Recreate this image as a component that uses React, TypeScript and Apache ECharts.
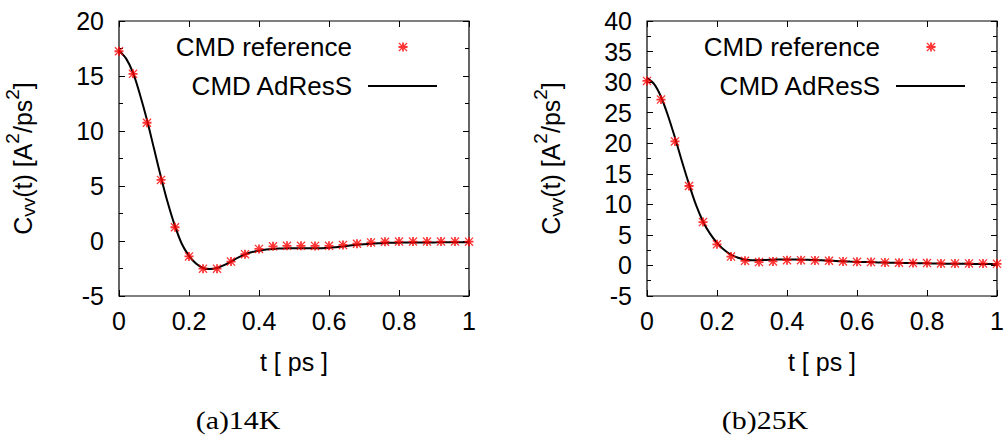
import React, { useEffect, useRef } from 'react';
import * as echarts from 'echarts';

// ---- data ----
const seriesNames = ['CMD reference', 'CMD AdResS'];
const panelCaptions = ['(a)14K', '(b)25K'];
const yMin = [-5, -5];
const yMax = [20, 40];
const yInterval = 5;
const xMin = 0;
const xMax = 1;
const xInterval = 0.2;

const refT = [0, 0.04, 0.08, 0.12, 0.16, 0.2, 0.24, 0.28, 0.32, 0.36, 0.4, 0.44, 0.48, 0.52, 0.56, 0.6, 0.64, 0.68, 0.72, 0.76, 0.8, 0.84, 0.88, 0.92, 0.96, 1.0];
const ref14K = [17.25, 15.2, 10.75, 5.55, 1.25, -1.4, -2.52, -2.52, -1.87, -1.2, -0.72, -0.48, -0.44, -0.44, -0.45, -0.44, -0.36, -0.25, -0.13, -0.07, -0.05, -0.05, -0.05, -0.05, -0.05, -0.06];
const ref25K = [30.2, 27.15, 20.3, 13.0, 7.1, 3.45, 1.45, 0.75, 0.55, 0.65, 0.87, 0.87, 0.82, 0.77, 0.65, 0.6, 0.55, 0.49, 0.44, 0.38, 0.38, 0.33, 0.33, 0.33, 0.33, 0.27];

const lineT = [0, 0.02, 0.04, 0.06, 0.08, 0.1, 0.12, 0.14, 0.16, 0.18, 0.2, 0.22, 0.24, 0.26, 0.28, 0.3, 0.32, 0.34, 0.36, 0.38, 0.4, 0.42, 0.44, 0.46, 0.48, 0.5, 0.52, 0.54, 0.56, 0.58, 0.6, 0.62, 0.64, 0.66, 0.68, 0.7, 0.72, 0.74, 0.76, 0.78, 0.8, 0.82, 0.84, 0.86, 0.88, 0.9, 0.92, 0.94, 0.96, 0.98, 1.0];
const adress14K = [17.3, 16.6, 15.3, 13.3, 11.0, 8.4, 5.8, 3.4, 1.35, -0.3, -1.35, -2.05, -2.45, -2.55, -2.45, -2.2, -1.87, -1.52, -1.22, -1.0, -0.88, -0.78, -0.72, -0.69, -0.67, -0.66, -0.66, -0.66, -0.66, -0.65, -0.62, -0.56, -0.49, -0.41, -0.34, -0.29, -0.25, -0.21, -0.18, -0.16, -0.15, -0.14, -0.14, -0.13, -0.13, -0.13, -0.12, -0.12, -0.12, -0.12, -0.12];
const adress25K = [30.7, 29.7, 27.6, 24.5, 20.9, 17.0, 13.3, 9.9, 7.2, 5.2, 3.7, 2.55, 1.75, 1.25, 0.95, 0.87, 0.87, 0.9, 0.94, 0.97, 0.98, 0.97, 0.95, 0.92, 0.88, 0.83, 0.78, 0.73, 0.68, 0.63, 0.59, 0.56, 0.53, 0.5, 0.47, 0.44, 0.42, 0.4, 0.38, 0.36, 0.34, 0.32, 0.3, 0.29, 0.28, 0.27, 0.26, 0.25, 0.24, 0.23, 0.22];

const refData = [ref14K, ref25K];
const lineData = [adress14K, adress25K];

const FONT = '"Liberation Sans", Arial, sans-serif';
const ASTERISK =
  'path://M0,4 L10,4 L10,6 L0,6 Z M4,0 L6,0 L6,10 L4,10 Z M1,0 L10,9 L9,10 L0,1 Z M9,0 L10,1 L1,10 L0,9 Z';
const LINE_ICON = 'path://M0,0 L69,0 L69,2 L0,2 Z';

const gridLefts = [119, 647];
const markerLegendRights = [599.5, 71.5];
const lineLegendRights = [570, 42];
const captionX = [238, 765];

export default function App() {
  const ref = useRef<HTMLDivElement>(null);

  useEffect(() => {
    if (!ref.current) return;
    const chart = echarts.init(ref.current, null, { renderer: 'svg' });

    const grids: any[] = [];
    const xAxes: any[] = [];
    const yAxes: any[] = [];
    const series: any[] = [];
    const legends: any[] = [];
    const graphics: any[] = [];

    for (let p = 0; p < 2; p++) {
      grids.push({
        left: gridLefts[p],
        top: 21,
        width: 350,
        height: 275,
        show: true,
        borderColor: '#000',
        borderWidth: 1.2,
        backgroundColor: 'transparent',
        outerBoundsMode: 'none',
      });
      const baseX = {
        type: 'value',
        gridIndex: p,
        min: xMin,
        max: xMax,
        interval: xInterval,
        axisLine: { show: false, onZero: false },
        splitLine: { show: false },
        axisTick: { show: true, inside: true, length: 6, lineStyle: { color: '#000', width: 1 } },
      };
      xAxes.push({
        ...baseX,
        position: 'bottom',
        name: 't [ ps ]',
        nameLocation: 'middle',
        nameGap: 53,
        nameTextStyle: { fontSize: 25, color: '#000', fontFamily: FONT },
        axisLabel: { show: true, fontSize: 25, color: '#000', fontFamily: FONT, margin: 12 },
      });
      xAxes.push({ ...baseX, position: 'top', axisLabel: { show: false } });

      const baseY = {
        type: 'value',
        gridIndex: p,
        min: yMin[p],
        max: yMax[p],
        interval: yInterval,
        axisLine: { show: false, onZero: false },
        splitLine: { show: false },
        axisTick: { show: true, inside: true, length: 6, lineStyle: { color: '#000', width: 1 } },
        minorTick: { show: true, splitNumber: 2, length: 4, lineStyle: { color: '#000', width: 1 } },
      };
      yAxes.push({
        ...baseY,
        position: 'left',
        name: '{n|C}{sub|vv}{n|(t) [A}{sup|2}{n|/ps}{sup|2}{n|]}',
        nameLocation: 'middle',
        nameRotate: 90,
        nameGap: 76,
        nameTextStyle: {
          color: '#000',
          fontFamily: FONT,
          rich: {
            n: { fontSize: 25, lineHeight: 40, verticalAlign: 'middle', color: '#000', fontFamily: FONT },
            sup: { fontSize: 19, lineHeight: 19, verticalAlign: 'top', color: '#000', fontFamily: FONT },
            sub: { fontSize: 19, lineHeight: 19, verticalAlign: 'bottom', padding: [0, 0, 5, 0], color: '#000', fontFamily: FONT },
          },
        },
        axisLabel: { show: true, fontSize: 25, color: '#000', fontFamily: FONT, margin: 15 },
      });
      yAxes.push({ ...baseY, position: 'right', axisLabel: { show: false } });

      series.push({
        type: 'scatter',
        name: seriesNames[0],
        xAxisIndex: p * 2,
        yAxisIndex: p * 2,
        symbol: ASTERISK,
        symbolSize: 9,
        symbolKeepAspect: true,
        itemStyle: { color: '#ff0000' },
        data: refT.map((t, i) => [t, refData[p][i]]),
        z: 3,
      });
      series.push({
        type: 'line',
        name: seriesNames[1],
        xAxisIndex: p * 2,
        yAxisIndex: p * 2,
        symbol: 'none',
        showSymbol: false,
        smooth: 0.3,
        lineStyle: { color: '#000', width: 2 },
        itemStyle: { color: '#000' },
        data: lineT.map((t, i) => [t, lineData[p][i]]),
        z: 2,
      });

      const legendCommon = {
        orient: 'horizontal',
        align: 'right',
        padding: 0,
        itemHeight: 9,
        selectedMode: false,
        textStyle: { color: '#000', fontFamily: FONT, fontSize: 26 },
      };
      legends.push({
        ...legendCommon,
        right: markerLegendRights[p],
        top: 34,
        itemWidth: 9,
        formatter: '{a|{name}}',
        textStyle: {
          ...legendCommon.textStyle,
          rich: { a: { fontSize: 26, color: '#000', fontFamily: FONT, padding: [0, 41.5, 0, 0] } },
        },
        data: [{ name: seriesNames[0], icon: ASTERISK }],
      });
      legends.push({
        ...legendCommon,
        right: lineLegendRights[p],
        top: 73,
        itemWidth: 69,
        formatter: '{a|{name}}',
        textStyle: {
          ...legendCommon.textStyle,
          rich: { a: { fontSize: 26, color: '#000', fontFamily: FONT, padding: [0, 11, 0, 0] } },
        },
        data: [{ name: seriesNames[1], icon: LINE_ICON }],
      });

      graphics.push({
        type: 'text',
        x: captionX[p],
        y: 420,
        scaleX: 1.15,
        style: {
          text: panelCaptions[p],
          fontSize: 26,
          fontFamily: '"Liberation Serif", "DejaVu Serif", serif',
          fill: '#000',
          align: 'center',
          verticalAlign: 'middle',
        },
      });
    }

    chart.setOption({
      animation: false,
      backgroundColor: '#fff',
      grid: grids,
      xAxis: xAxes,
      yAxis: yAxes,
      legend: legends,
      series,
      graphic: graphics,
    });

    return () => chart.dispose();
  }, []);

  return (
    <div
      ref={ref}
      style={{ position: 'absolute', left: 0, top: 0, width: 1007, height: 444, background: '#fff' }}
    />
  );
}
